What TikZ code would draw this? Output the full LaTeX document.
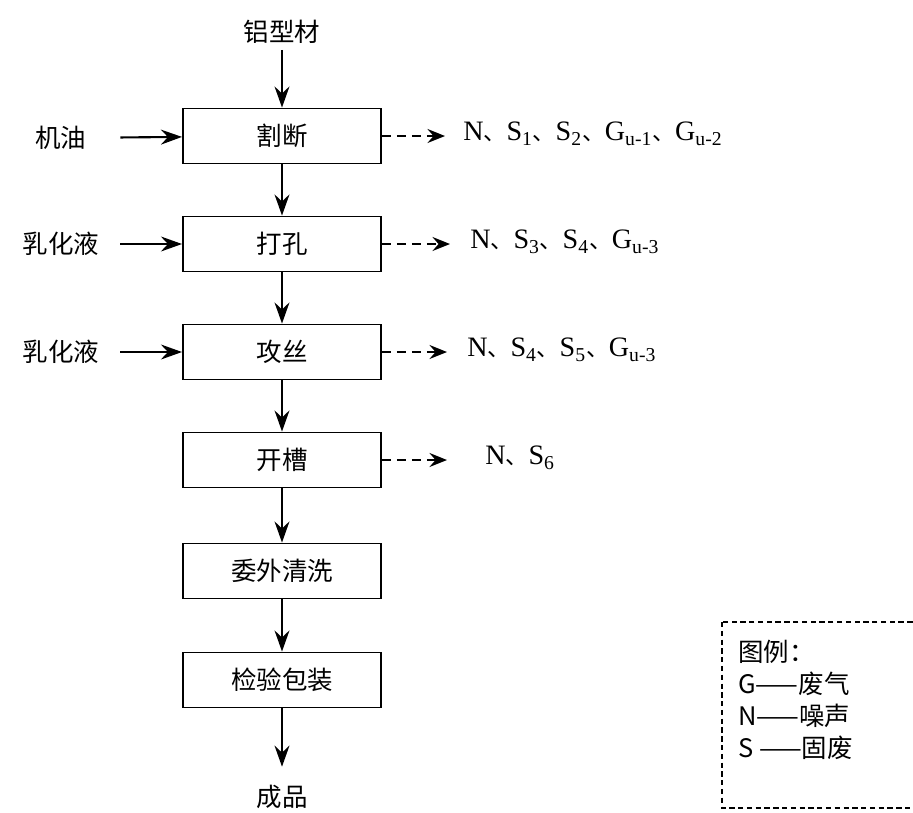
\documentclass[tikz,border=0pt]{standalone}
\usepackage{fontspec}
\setmainfont{Liberation Serif}
\newfontfamily\cjk{Noto Sans CJK SC}
\usetikzlibrary{positioning, arrows.meta}
\newcommand{\dun}{{\cjk\fontsize{13}{13}\selectfont 、}}

\begin{document}
\begin{tikzpicture}[
    box/.style={rectangle, draw, line width=1.1pt, minimum width=3.96cm, minimum height=1.1cm,
                font=\cjk\fontsize{14.5}{17}\selectfont},
    inlabel/.style={inner sep=0pt, minimum width=2.36cm, font=\cjk\fontsize{14.5}{17}\selectfont},
    outlabel/.style={anchor=west, inner sep=0pt, font=\fontsize{16}{18}\selectfont},
    flow/.style={-{Stealth[length=12pt, width=8.5pt, inset=4pt]}, line width=1.2pt},
    waste/.style={-{Stealth[length=10pt, width=8pt, inset=3.5pt]}, line width=1.1pt,
                  dash pattern=on 5pt off 3.5pt},
    legbox/.style={line width=0.9pt, dash pattern=on 3pt off 2pt},
    >=Stealth
]
\useasboundingbox (0,0) rectangle (18.26,-16.24);

% Process steps
\node[box] (cut)   at (5.64,-2.72)  {割断};
\node[box] (drill) at (5.64,-4.88)  {打孔};
\node[box] (tap)   at (5.64,-7.04)  {攻丝};
\node[box] (slot)  at (5.64,-9.20)  {开槽};
\node[box] (wash)  at (5.64,-11.42) {委外清洗};
\node[box] (pack)  at (5.64,-13.60) {检验包装};

% Raw material and product
\node[font=\cjk\fontsize{14.5}{17}\selectfont] (alu) at (5.64,-0.64) {铝型材};
\node[font=\cjk\fontsize{14.5}{17}\selectfont] (prod) at (5.64,-15.94) {成品};

% Auxiliary inputs
\node[inlabel] (oil)  at (1.22,-2.76) {机油};
\node[inlabel] (emu1) at (1.22,-4.88) {乳化液};
\node[inlabel] (emu2) at (1.22,-7.04) {乳化液};

% Pollutants
\node[outlabel] (out1) at (9.26,-2.68) {N\dun S\textsubscript{1}\dun S\textsubscript{2}\dun G\textsubscript{u-1}\dun G\textsubscript{u-2}};
\node[outlabel] (out2) at (9.40,-4.84) {N\dun S\textsubscript{3}\dun S\textsubscript{4}\dun G\textsubscript{u-3}};
\node[outlabel] (out3) at (9.34,-7.00) {N\dun S\textsubscript{4}\dun S\textsubscript{5}\dun G\textsubscript{u-3}};
\node[outlabel] (out4) at (9.70,-9.16) {N\dun S\textsubscript{6}};

% Main flow
\draw[flow] (alu) -- (cut);
\draw[flow] (cut) -- (drill);
\draw[flow] (drill) -- (tap);
\draw[flow] (tap) -- (slot);
\draw[flow] (slot) -- (wash);
\draw[flow] (wash) -- (pack);
\draw[flow, shorten >=7pt] (pack) -- (prod);

\draw[flow] (oil) -- (cut);
\draw[flow] (emu1) -- (drill);
\draw[flow] (emu2) -- (tap);

\draw[waste, shorten >=0.36cm] (cut.east) -- (cut.east -| out1.west);
\draw[waste, shorten >=0.4cm] (drill.east) -- (drill.east -| out2.west);
\draw[waste, shorten >=0.4cm] (tap.east) -- (tap.east -| out3.west);
\draw[waste, shorten >=0.76cm] (slot.east) -- (slot.east -| out4.west);

% Legend
\draw[legbox] (14.44,-12.44) rectangle (18.6,-16.16);
\node[anchor=north west, align=left, inner sep=0pt, font=\cjk\fontsize{14.5}{18.2}\selectfont]
    (legend) at (14.76,-12.80) {图例：\\G——废气\\N——噪声\\S ——固废};
\end{tikzpicture}
\end{document}
